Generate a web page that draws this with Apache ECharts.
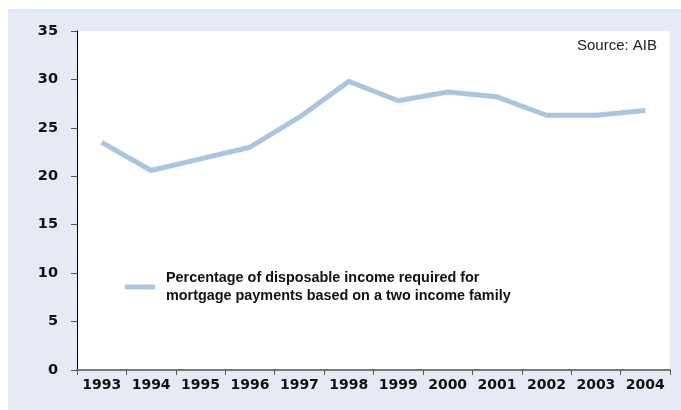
<!DOCTYPE html>
<html><head><meta charset="utf-8">
<script src="https://cdn.jsdelivr.net/npm/echarts@6/dist/echarts.min.js"></script>
<style>html,body{margin:0;padding:0;background:#fff}#c{width:681px;height:410px}</style>
</head><body><div id="c"></div>
<script>
var years = ['1993','1994','1995','1996','1997','1998','1999','2000','2001','2002','2003','2004'];
var share = [23.5, 20.6, 21.8, 23.0, 26.1, 29.8, 27.8, 28.7, 28.2, 26.3, 26.3, 26.8];
var yTicks = [0, 5, 10, 15, 20, 25, 30, 35];
var seriesName = 'Percentage of disposable income required for\nmortgage payments based on a two income family';

var chart = echarts.init(document.getElementById('c'));
chart.setOption({
  animation: false,
  backgroundColor: '#fff',
  graphic: [{type:'rect', left: 8, top: 9, shape:{width: 673, height: 401}, style:{fill:'#e6eaf4'}, z: -10}],
  grid: {left: 77, right: 11, top: 31, bottom: 40, show: true, backgroundColor: '#fff', borderWidth: 0},
  title: {text: 'Source: AIB', right: 24, top: 38, padding: 0, textStyle: {fontFamily: 'Liberation Sans', fontSize: 15, fontWeight: 'normal', color: '#222'}},
  legend: {
    left: 125, top: 269, orient: 'vertical', padding: 0,
    icon: 'rect', itemWidth: 30, itemHeight: 5, itemGap: 0,
    textStyle: {fontFamily: 'Liberation Sans', fontSize: 14.4, fontWeight: 'bold', color: '#111', lineHeight: 18, padding: [0,0,0,6]},
    data: [seriesName]
  },
  xAxis: {
    type: 'category', data: years, boundaryGap: true,
    axisLine: {lineStyle: {color: '#777', width: 2}},
    axisTick: {show: true, inside: false, length: 5, interval: 0, lineStyle: {color: '#555', width: 1}},
    axisLabel: {interval: 0, hideOverlap: false, fontFamily: 'DejaVu Sans', fontSize: 14, fontWeight: 'bold', color: '#111', margin: 8},
    splitLine: {show: false}
  },
  yAxis: {
    type: 'value', min: yTicks[0], max: yTicks[yTicks.length-1], interval: 5,
    axisLine: {show: true, lineStyle: {color: '#000', width: 1}},
    axisTick: {show: true, length: 6, lineStyle: {color: '#555'}},
    axisLabel: {fontFamily: 'DejaVu Sans', fontSize: 14.5, fontWeight: 'bold', color: '#111', margin: 19},
    splitLine: {show: false}
  },
  series: [{
    name: seriesName, type: 'line', data: share, symbol: 'none',
    lineStyle: {color: '#aac5e0', width: 5}, itemStyle: {color: '#aac5e0'}
  }]
});
</script></body></html>
